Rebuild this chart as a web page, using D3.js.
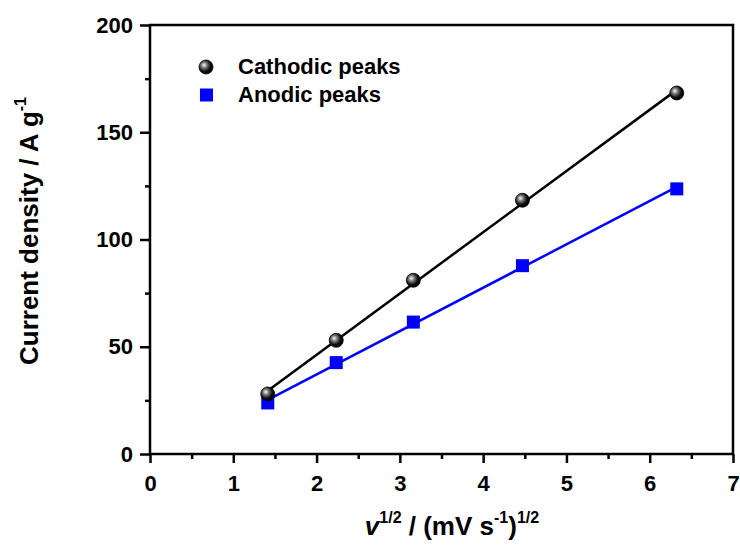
<!DOCTYPE html>
<html><head><meta charset="utf-8">
<script src="https://cdn.jsdelivr.net/npm/d3@7"></script>
<style>body{margin:0;background:#fff}text{font-family:"Liberation Sans",Arial,sans-serif;font-weight:bold}</style>
</head><body><svg id="c" width="740" height="545"></svg>
<script>
const xVals = [1.414, 2.236, 3.162, 4.472, 6.325];
const cathodic = [28, 53, 81, 118.3, 168.3];
const anodic = [23.8, 42.6, 61.5, 87.8, 123.6];
const xTicks = [0,1,2,3,4,5,6,7];
const yTicks = [0,50,100,150,200];
const seriesNames = ["Cathodic peaks","Anodic peaks"];

const svg = d3.select("#c");
const m = {l:150, r:733, t:25, b:454};
const x = d3.scaleLinear().domain([0,7]).range([m.l,m.r]);
const y = d3.scaleLinear().domain([0,200]).range([m.b,m.t]);

const defs = svg.append("defs");
const g = defs.append("radialGradient").attr("id","sph").attr("cx","0.4").attr("cy","0.4").attr("r","0.6").attr("fx","0.35").attr("fy","0.35");
g.append("stop").attr("offset","0").attr("stop-color","#ffffff");
g.append("stop").attr("offset","0.3").attr("stop-color","#888");
g.append("stop").attr("offset","0.7").attr("stop-color","#111");
g.append("stop").attr("offset","1").attr("stop-color","#000");

// frame
svg.append("rect").attr("x",m.l).attr("y",m.t).attr("width",m.r-m.l).attr("height",m.b-m.t)
  .attr("fill","none").attr("stroke","#000").attr("stroke-width",2.5);

// axes
const xAxis = d3.axisBottom(x).tickValues(xTicks).tickSize(9).tickPadding(12).tickFormat(d3.format("d"));
svg.append("g").attr("transform",`translate(0,${m.b})`).call(xAxis);
const xMinor = d3.range(0.5,7,1);
svg.append("g").attr("transform",`translate(0,${m.b})`).call(d3.axisBottom(x).tickValues(xMinor).tickSize(5).tickFormat(""));
const yAxis = d3.axisLeft(y).tickValues(yTicks).tickSize(10).tickPadding(7);
svg.append("g").attr("transform",`translate(${m.l},0)`).call(yAxis);
svg.append("g").attr("transform",`translate(${m.l},0)`).call(d3.axisLeft(y).tickValues(d3.range(25,200,50)).tickSize(5).tickFormat(""));
svg.selectAll(".domain").remove();
svg.selectAll(".tick line").attr("stroke","#000").attr("stroke-width",2.5);
svg.selectAll(".tick text").attr("font-size",22).attr("fill","#000").attr("font-family","Liberation Sans, Arial, sans-serif").attr("font-weight","bold");

// fits
function fit(xs, ys){
  const mx=d3.mean(xs), my=d3.mean(ys);
  const s=d3.sum(xs.map((v,i)=>(v-mx)*(ys[i]-my)))/d3.sum(xs.map(v=>(v-mx)**2));
  return v=>my+s*(v-mx);
}
const ext = d3.extent(xVals);
[[cathodic,"#000"],[anodic,"#0000ff"]].forEach(([ys,col])=>{
  const f = fit(xVals, ys);
  svg.append("line").attr("x1",x(ext[0])).attr("y1",y(f(ext[0]))).attr("x2",x(ext[1])).attr("y2",y(f(ext[1])))
    .attr("stroke",col).attr("stroke-width",2.5);
});

// markers
svg.selectAll(".sq").data(xVals).join("rect").attr("x",d=>x(d)-6.5).attr("y",(d,i)=>y(anodic[i])-6.5)
  .attr("width",13).attr("height",13).attr("fill","#0000ff");
svg.selectAll(".ci").data(xVals).join("circle").attr("cx",d=>x(d)).attr("cy",(d,i)=>y(cathodic[i])).attr("r",7)
  .attr("fill","url(#sph)").attr("stroke","#000").attr("stroke-width",0.8);

// legend
svg.append("circle").attr("cx",206).attr("cy",67).attr("r",7).attr("fill","url(#sph)").attr("stroke","#000").attr("stroke-width",0.8);
svg.append("rect").attr("x",200).attr("y",88.5).attr("width",13).attr("height",13).attr("fill","#0000ff");
svg.append("text").attr("x",238).attr("y",74).attr("font-size",22).text(seriesNames[0]);
svg.append("text").attr("x",238).attr("y",102).attr("font-size",22).text(seriesNames[1]);

// axis titles
const yt = svg.append("text").attr("transform","translate(38,231) rotate(-90)").attr("text-anchor","middle").attr("font-size",26);
yt.append("tspan").text("Current density / A g");
yt.append("tspan").attr("dy",-12).attr("font-size",16).text("-1");

const xt = svg.append("text").attr("x",452).attr("y",535).attr("text-anchor","middle").attr("font-size",26);
xt.append("tspan").attr("font-style","italic").text("v");
xt.append("tspan").attr("dy",-12).attr("font-size",16).text("1/2");
xt.append("tspan").attr("dy",12).text(" / (mV s");
xt.append("tspan").attr("dy",-12).attr("font-size",16).text("-1");
xt.append("tspan").attr("dy",12).text(")");
xt.append("tspan").attr("dy",-12).attr("font-size",16).text("1/2");
</script></body></html>
